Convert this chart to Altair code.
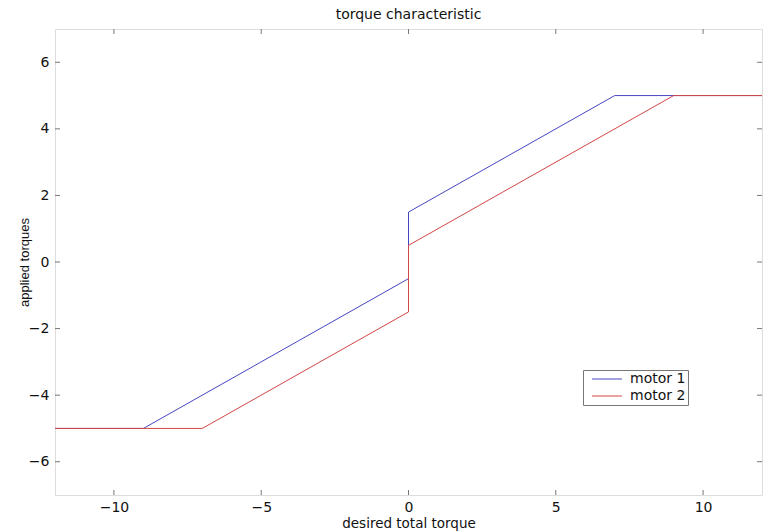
import altair as alt
import pandas as pd

# Data
m1_x = [-12, -9, 0, 0, 7, 12]
m1_y = [-5, -5, -0.5, 1.5, 5, 5]
m2_x = [-12, -7, 0, 0, 9, 12]
m2_y = [-5, -5, -1.5, 0.5, 5, 5]
series = ["motor 1", "motor 2"]
colors = ["#4646c0", "#d24646"]
x_ticks = [-10, -5, 0, 5, 10]
y_ticks = [-6, -4, -2, 0, 2, 4, 6]

rows = []
for name, xs, ys in [(series[0], m1_x, m1_y), (series[1], m2_x, m2_y)]:
    for i, (xv, yv) in enumerate(zip(xs, ys)):
        rows.append({"series": name, "x": xv, "y": yv, "order": i})
df = pd.DataFrame(rows)

W, H = 707, 466
HFONT = "DejaVu Sans"
VFONT = "Liberation Sans"

x_scale = alt.Scale(domain=[-12, 12], nice=False, zero=False)
y_scale = alt.Scale(domain=[-7, 7], nice=False, zero=False)

x_axis = alt.Axis(values=x_ticks, ticks=False, domain=False, grid=False,
                  labelPadding=5, labelFontSize=14, labelFont=HFONT, labelColor="#111",
                  title="desired total torque", titleFont=HFONT, titleFontSize=13.5,
                  titleFontWeight="normal", titleColor="#111", titlePadding=2)
y_axis = alt.Axis(values=y_ticks, ticks=False, domain=False, grid=False,
                  labelPadding=6, labelFontSize=14, labelFont=HFONT, labelColor="#111",
                  title="applied torques", titleFont=VFONT, titleFontSize=13,
                  titleFontWeight="normal", titleColor="#111", titlePadding=-3)

lines = alt.Chart(df).mark_line(strokeWidth=1).encode(
    x=alt.X("x:Q", scale=x_scale, axis=x_axis),
    y=alt.Y("y:Q", scale=y_scale, axis=y_axis),
    color=alt.Color("series:N", scale=alt.Scale(domain=series, range=colors),
                    legend=alt.Legend(title=None, orient="none", legendX=528, legendY=341,
                                      symbolType="M-2.3,0H2.3", symbolSize=169, symbolStrokeWidth=1,
                                      symbolOffset=15, labelOffset=16,
                                      labelExpr="datum.label + '\u2002'",
                                      labelFont=HFONT, labelFontSize=14, labelColor="#111",
                                      strokeColor="#777", fillColor="white", padding=2,
                                      rowPadding=3)),
    order="order:Q",
)

xt = pd.DataFrame({"v": x_ticks})
yt = pd.DataFrame({"v": y_ticks})
tick_color = "#777"
xb = alt.Chart(xt).mark_rule(color=tick_color).encode(
    x=alt.X("v:Q", scale=x_scale, axis=x_axis), y=alt.value(H), y2=alt.value(H - 5))
xtp = alt.Chart(xt).mark_rule(color=tick_color).encode(
    x=alt.X("v:Q", scale=x_scale, axis=x_axis), y=alt.value(0), y2=alt.value(5))
yl = alt.Chart(yt).mark_rule(color=tick_color).encode(
    y=alt.Y("v:Q", scale=y_scale, axis=y_axis), x=alt.value(0), x2=alt.value(5))
yr = alt.Chart(yt).mark_rule(color=tick_color).encode(
    y=alt.Y("v:Q", scale=y_scale, axis=y_axis), x=alt.value(W), x2=alt.value(W - 5))

chart = alt.layer(xb, xtp, yl, yr, lines).properties(
    width=W, height=H,
    title=alt.TitleParams("torque characteristic", font=HFONT, fontSize=14,
                          fontWeight="normal", color="#111", anchor="middle", offset=7),
    autosize=alt.AutoSizeParams(type="none"),
    padding={"left": 55, "top": 29, "right": 4, "bottom": 37},
).configure_view(stroke="#777", strokeWidth=1).configure(background="white")

chart.save("out.html", embed_options={"renderer": "svg", "actions": False})
